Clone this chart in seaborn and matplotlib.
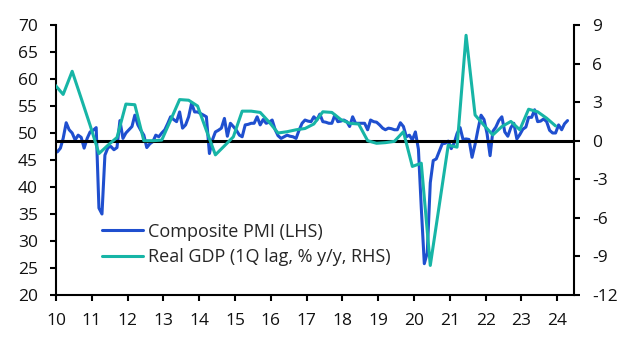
import matplotlib
matplotlib.use("Agg")
import matplotlib.pyplot as plt
import numpy as np
import pandas as pd
import seaborn as sns

# Composite PMI, monthly from Jan 2010 (index, 50 = no change)
pmi_start = "2010-01"
pmi_values = [
    46.5, 47.2, 49.0, 51.9, 50.6, 50.0, 48.7, 49.6, 49.2, 47.2, 49.0, 50.2,  # 2010
    50.5, 51.0, 36.1, 35.0, 45.9, 47.3, 47.5, 46.9, 47.3, 52.3, 49.0, 50.0,  # 2011
    50.6, 51.2, 53.3, 51.5, 50.5, 49.6, 47.3, 48.0, 48.4, 49.6, 49.3, 50.0,  # 2012
    50.6, 51.8, 53.0, 52.5, 52.1, 53.9, 50.9, 51.5, 53.0, 55.5, 53.9, 53.9,  # 2013
    53.6, 53.3, 53.0, 46.2, 48.7, 50.2, 50.5, 50.9, 52.7, 49.4, 51.8, 51.2,  # 2014
    50.5, 49.6, 49.3, 51.5, 51.6, 51.8, 51.8, 53.0, 51.5, 52.5, 51.8, 52.0,  # 2015
    52.4, 50.6, 49.5, 49.0, 49.3, 49.6, 49.4, 49.3, 49.0, 50.5, 51.8, 52.4,  # 2016
    52.2, 52.1, 53.0, 52.4, 53.5, 52.1, 52.0, 51.8, 51.8, 53.3, 52.1, 52.2,  # 2017
    52.4, 52.1, 51.2, 53.0, 51.8, 51.8, 51.8, 51.8, 50.6, 52.4, 52.1, 52.0,  # 2018
    51.5, 50.9, 50.6, 50.9, 50.8, 50.6, 50.6, 51.9, 51.2, 49.3, 49.6, 48.7,  # 2019
    50.2, 47.0, 36.2, 25.8, 27.8, 40.8, 44.9, 45.2, 46.6, 48.0, 48.1, 48.5,  # 2020
    47.1, 48.2, 49.9, 51.0, 48.8, 48.9, 48.8, 45.5, 47.9, 50.7, 53.3, 52.5,  # 2021
    49.9, 45.8, 50.3, 51.1, 52.3, 53.0, 50.2, 49.4, 51.0, 51.8, 48.9, 49.7,  # 2022
    50.7, 51.1, 52.9, 52.9, 54.3, 52.1, 52.2, 52.6, 52.1, 50.5, 50.0, 50.0,  # 2023
    51.5, 50.6, 51.7, 52.3,                                                  # 2024
]

# Real GDP, % y/y, quarterly from 2009Q4 (shown with a one-quarter lag)
gdp_start = "2009Q4"
gdp_values = [
    4.4,
    3.6, 5.4, 3.3, 1.2,      # 2010
    -1.0, -0.35, 0.25, 2.85,  # 2011
    2.8, 0.0, 0.0, 0.05,     # 2012
    1.6, 3.2, 3.15, 2.7,     # 2013
    0.8, -1.1, -0.4, 0.3,    # 2014
    2.3, 2.3, 2.2, 1.45,     # 2015
    0.6, 0.7, 0.85, 0.95,    # 2016
    1.3, 2.25, 2.2, 1.65,    # 2017
    1.35, 1.3, 0.0, -0.2,    # 2018
    -0.15, -0.05, 0.7, -2.0,  # 2019
    -1.75, -9.7, -5.0, -0.35,  # 2020
    -0.5, 8.2, 2.0, 1.2,     # 2021
    0.45, 1.1, 1.5, 0.85,    # 2022
    2.45, 2.25, 1.75, 1.15,  # 2023
]

years = list(range(2010, 2025))
year_labels = [f"{y % 100:02d}" for y in years]
left_ticks = list(range(20, 71, 5))
right_ticks = list(range(-12, 10, 3))

pmi_label = "Composite PMI (LHS)"
gdp_label = "Real GDP (1Q lag, % y/y, RHS)"
pmi_color = "#1f4fcf"
gdp_color = "#17b5a6"

# monthly points sit mid-month, quarterly points mid-way through the quarter's last month
pmi_dates = pd.period_range(pmi_start, periods=len(pmi_values), freq="M").to_timestamp() + pd.Timedelta(days=14)
gdp_dates = (pd.period_range(gdp_start, periods=len(gdp_values), freq="Q")
             .asfreq("M", how="end").to_timestamp() + pd.Timedelta(days=14))
pmi = pd.DataFrame({"date": pmi_dates, "value": pmi_values})
gdp = pd.DataFrame({"date": gdp_dates, "value": gdp_values})

sns.set_style("white")
plt.rcParams["font.family"] = ["Open Sans", "DejaVu Sans"]
plt.rcParams["axes.unicode_minus"] = False

fig = plt.figure(figsize=(6.25, 3.37), dpi=100)
ax = fig.add_axes([56 / 625, 1 - 295 / 337, (574 - 56) / 625, 270 / 337])
ax2 = ax.twinx()

sns.lineplot(data=pmi, x="date", y="value", ax=ax, color=pmi_color, lw=2.2, label=pmi_label, legend=False)
ax2.axhline(0, color="black", lw=2.2, zorder=1)
sns.lineplot(data=gdp, x="date", y="value", ax=ax2, color=gdp_color, lw=2.2, label=gdp_label, legend=False, zorder=2)

ax.set_xlim(pd.Timestamp("2010-01-01"), pd.Timestamp("2024-06-20"))
ax.set_ylim(20, 70)
ax2.set_ylim(-12, 9)
ax.set_xticks([pd.Timestamp(f"{y}-01-01") for y in years])
ax.set_xticklabels(year_labels)
ax.set_yticks(left_ticks)
ax2.set_yticks(right_ticks)
ax2.set_yticklabels([str(t) for t in right_ticks])
ax.set_xlabel("")
ax.set_ylabel("")
ax2.set_ylabel("")

for a in (ax, ax2):
    for s in a.spines.values():
        s.set_visible(False)
        s.set_linewidth(1.5)
        s.set_color("black")
ax.spines["left"].set_visible(True)
ax.spines["bottom"].set_visible(True)
ax2.spines["right"].set_visible(True)

tick_kw = dict(direction="out", length=4.5, width=1.5, color="black", labelsize=12.5, labelcolor="#111111", pad=8.5)
ax.tick_params(axis="both", **tick_kw)
ax.tick_params(axis="y", left=True)
ax.tick_params(axis="x", bottom=True)
ax2.tick_params(axis="y", right=True, **tick_kw)

h1, l1 = ax.get_legend_handles_labels()
h2, l2 = ax2.get_legend_handles_labels()
ax2.legend(h1 + h2, l1 + l2, loc="upper left", bbox_to_anchor=(0.088, 0.268), frameon=False,
           fontsize=13, handlelength=2.3, handletextpad=0.25, labelspacing=0.42,
           borderpad=0, borderaxespad=0)

fig.savefig("out.png", dpi=100)
